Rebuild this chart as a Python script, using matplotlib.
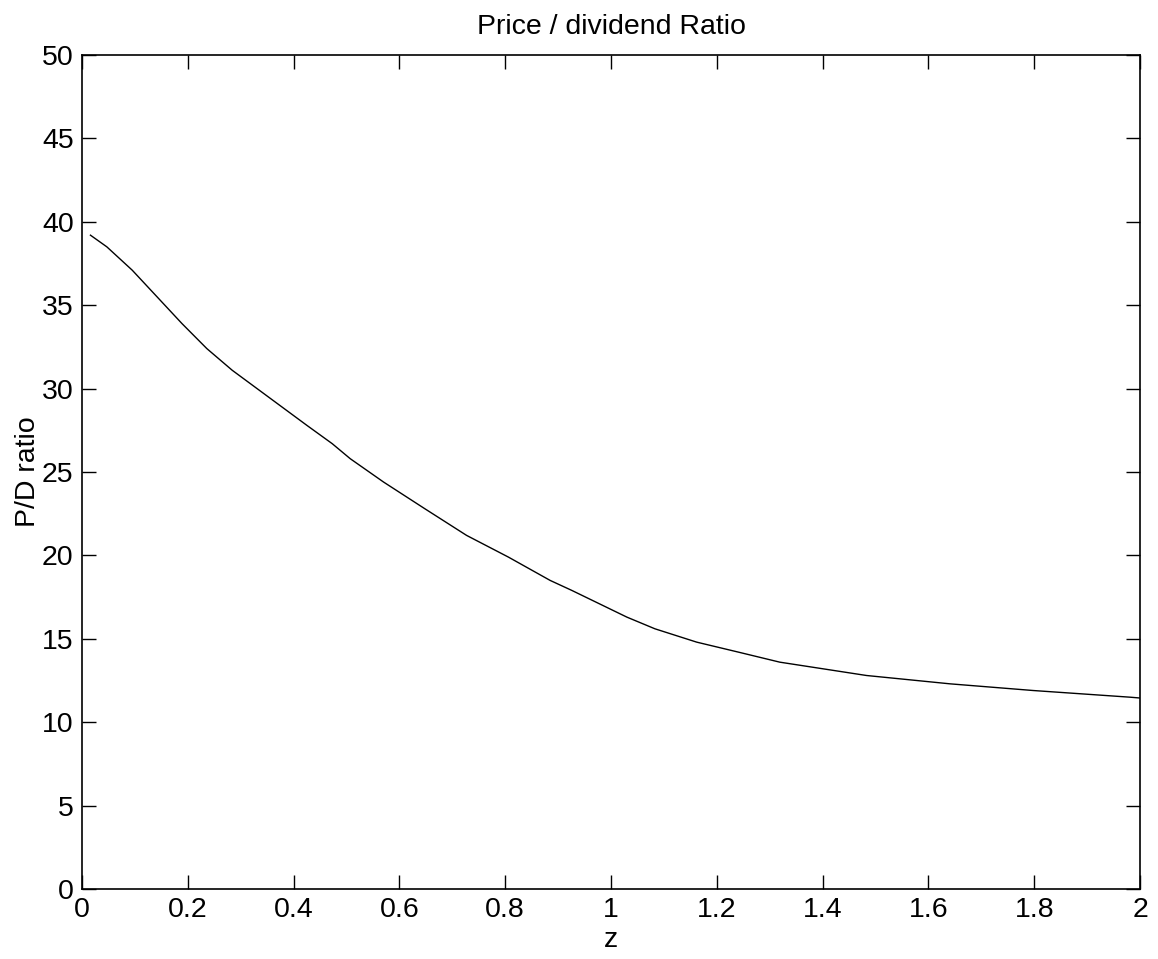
import matplotlib
matplotlib.use("Agg")  # No display
import matplotlib.pyplot as plt  # Plotting

# Curve values
z_vals = [0.016, 0.047, 0.095, 0.142, 0.189, 0.236, 0.284, 0.331, 0.378, 0.425,
          0.473, 0.507, 0.570, 0.648, 0.727, 0.806, 0.885, 0.926, 1.004, 1.03,
          1.083, 1.162, 1.241, 1.319, 1.483, 1.641, 1.798, 1.981, 2.0]
pd_vals = [39.2, 38.5, 37.1, 35.5, 33.9, 32.4, 31.1, 30.0, 28.9, 27.8,
           26.7, 25.8, 24.4, 22.8, 21.2, 19.9, 18.5, 17.9, 16.7, 16.3,
           15.6, 14.8, 14.2, 13.6, 12.8, 12.3, 11.9, 11.5, 11.45]

x_ticks = [0, 0.2, 0.4, 0.6, 0.8, 1, 1.2, 1.4, 1.6, 1.8, 2]
x_labels = ["0", "0.2", "0.4", "0.6", "0.8", "1", "1.2", "1.4", "1.6", "1.8", "2"]
y_ticks = [0, 5, 10, 15, 20, 25, 30, 35, 40, 45, 50]

plt.rcParams["font.family"] = ["Liberation Sans", "DejaVu Sans"]  # Helvetica look

fig = plt.figure(figsize=(11.58, 9.59), dpi=100)  # Canvas
ax = fig.add_axes([0.0708, 0.073, 0.9137, 0.8696])  # Axes box

ax.plot(z_vals, pd_vals, color="black", linewidth=1.0)  # P/D curve

ax.set_xlim(0, 2)  # X range
ax.set_ylim(0, 50)  # Y range
ax.set_xticks(x_ticks)  # X ticks
ax.set_xticklabels(x_labels)  # X tick text
ax.set_yticks(y_ticks)  # Y ticks
ax.tick_params(direction="in", length=10, width=1, top=True, right=True,
               labelsize=20.5, pad=6)  # MATLAB-style ticks
for spine in ax.spines.values():
    spine.set_linewidth(1.2)  # Frame

ax.set_title("Price / dividend Ratio", fontsize=20.5, pad=15)  # Title
ax.set_xlabel("z", fontsize=20.5, labelpad=3)  # X label
ax.set_ylabel("P/D ratio", fontsize=20.5, labelpad=1)  # Y label

fig.savefig("out.png", dpi=100)  # Save PNG
